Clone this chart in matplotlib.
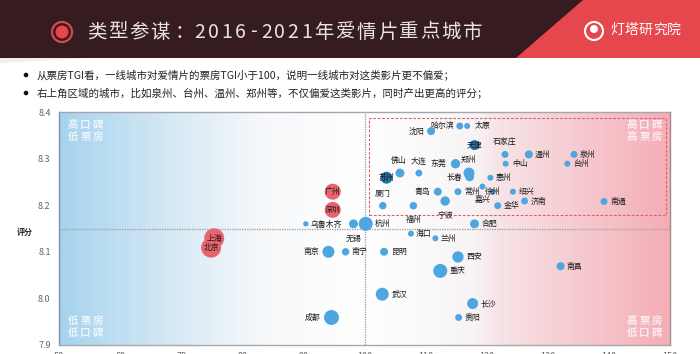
import matplotlib
matplotlib.use('Agg')
import matplotlib.pyplot as plt
from matplotlib.colors import LinearSegmentedColormap
from matplotlib.patches import Circle, Polygon, Rectangle
import numpy as np

plt.rcParams['font.family'] = ['Noto Sans CJK SC', 'DejaVu Sans']

# chart values
cities = ['沈阳', '哈尔滨', '太原', '天津', '石家庄', '中山', '温州', '泉州', '台州', '佛山',
          '大连', '东莞', '郑州', '长春', '惠州', '苏州', '青岛', '常州', '嘉兴', '徐州',
          '绍兴', '金华', '济南', '南通', '厦门', '福州', '宁波', '合肥', '杭州', '无锡',
          '乌鲁木齐', '广州', '深圳', '上海', '北京', '南京', '南宁', '昆明', '武汉', '成都',
          '海口', '兰州', '西安', '重庆', '南昌', '长沙', '贵阳']
tgi = [110.9, 115.6, 116.8, 118.0, 123.0, 123.1, 126.9, 134.3, 133.2, 105.8,
       108.9, 114.9, 117.1, 117.2, 120.6, 103.6, 112.0, 115.3, 119.3, 121.0,
       124.3, 121.8, 126.2, 139.2, 103.0, 108.0, 113.2, 118.0, 100.2, 98.2,
       90.4, 94.8, 94.8, 75.4, 74.9, 94.1, 96.9, 103.2, 102.9, 94.6,
       107.6, 111.6, 115.3, 112.4, 132.1, 117.7, 115.4]
rating = [8.359, 8.37, 8.37, 8.329, 8.309, 8.289, 8.309, 8.309, 8.289, 8.269,
          8.269, 8.289, 8.269, 8.261, 8.259, 8.259, 8.229, 8.229, 8.24, 8.229,
          8.229, 8.199, 8.209, 8.208, 8.199, 8.199, 8.209, 8.16, 8.16, 8.16,
          8.16, 8.229, 8.19, 8.129, 8.109, 8.1, 8.1, 8.1, 8.009, 7.959,
          8.139, 8.129, 8.089, 8.059, 8.069, 7.989, 7.959]
box_office = [16, 12, 9, 25, 12, 9, 16, 12, 9, 20,
              12, 22, 30, 20, 9, 36, 16, 12, 9, 9,
              9, 12, 12, 12, 14, 14, 22, 20, 49, 20,
              7, 64, 64, 100, 100, 36, 14, 16, 42, 56,
              9, 9, 32, 49, 16, 30, 12]
first_tier = ['广州', '深圳', '上海', '北京']
x_ticks = [50, 60, 70, 80, 90, 100, 110, 120, 130, 140, 150]
y_ticks = [7.9, 8.0, 8.1, 8.2, 8.3, 8.4]
bullets = ['从票房TGI看，一线城市对爱情片的票房TGI小于100，说明一线城市对这类影片更不偏爱；',
           '右上角区域的城市，比如泉州、台州、温州、郑州等，不仅偏爱这类影片，同时产出更高的评分；']

# label offset from the dot, pixels (right, down)
label_offset = {'沈阳': (-15, 0), '哈尔滨': (-18, 0), '太原': (15, 0), '石家庄': (0, -12), '中山': (14, 0),
                '温州': (14, 0), '泉州': (14, 0), '台州': (14, 0), '佛山': (-1, -13), '大连': (0, -12),
                '东莞': (-17, 0), '郑州': (0, -14), '长春': (-15, 1), '惠州': (13, 0), '青岛': (-15, 0),
                '常州': (14, 0), '嘉兴': (0, 13), '绍兴': (14, 0), '金华': (14, 0), '济南': (14, 0),
                '南通': (14, 0), '厦门': (0, -12), '福州': (0, 14), '宁波': (0, 14), '合肥': (15, 0),
                '杭州': (17, 0), '无锡': (0, 14), '乌鲁木齐': (20, 1), '南京': (-17, 0), '南宁': (14, 0),
                '昆明': (15, 0), '武汉': (17, 0), '成都': (-19, 0), '海口': (13, 0), '兰州': (13, 0),
                '西安': (16, 0), '重庆': (17, 0), '南昌': (14, 0), '长沙': (16, 0), '贵阳': (14, 0)}

W, H = 700, 354
fig = plt.figure(figsize=(7, 3.54), dpi=100, facecolor='white')

# overlay in pixel coordinates for the header and notes
bg = fig.add_axes([0, 0, 1, 1])
bg.set_xlim(0, W)
bg.set_ylim(H, 0)
bg.axis('off')


def spaced(ax, text, x, y, step, **kw):
    # matplotlib has no letter spacing, so place one character at a time
    for i, ch in enumerate(text):
        ax.text(x + i * step, y, ch, ha='center', va='center', **kw)


bg.add_patch(Rectangle((0, 0), W, 58, color='#361b21', lw=0))
bg.add_patch(Polygon([(583, 0), (W, 0), (W, 58), (516, 58)], color='#e6474c', lw=0))
bg.add_patch(Polygon([(0, 58), (90, 58), (0, 63)], color='#f3eee6', lw=0))
bg.add_patch(Circle((62, 32), 10, fc='none', ec='#d9484c', lw=1.6))
bg.add_patch(Circle((62, 32), 6.5, color='#e6474c', lw=0))
title_color = '#e9e3e3'
spaced(bg, '类型参谋', 97, 32, 21, color=title_color, fontsize=14)
bg.text(184, 32, '：', ha='center', va='center', color=title_color, fontsize=14)
spaced(bg, '2016-2021', 200, 32, 13.3, color=title_color, fontsize=14)
spaced(bg, '年爱情片重点城市', 324, 32, 21.2, color=title_color, fontsize=14)
bg.add_patch(Circle((594, 31), 9, fc='none', ec='white', lw=1.5))
bg.add_patch(Circle((594, 29), 4, color='white', lw=0))
spaced(bg, '灯塔研究院', 617, 30, 14.3, color='white', fontsize=10)

for y, txt in zip([75, 93], bullets):
    bg.add_patch(Circle((26, y), 2.3, color='#111111', lw=0))
    bg.text(37, y, txt, ha='left', va='center', color='#222222', fontsize=7.55)

bg.text(25, 232, '评分', ha='center', va='center', color='#222222', fontsize=5.8, fontweight='bold')

# scatter axes
ax = fig.add_axes([59 / W, 1 - 345 / H, 611 / W, 233 / H])
ax.set_xlim(50, 150)
ax.set_ylim(7.9, 8.4)
ax.patch.set_alpha(0)

cmap = LinearSegmentedColormap.from_list('quad', [
    (0.0, '#a6d3ee'), (0.2, '#dbebf6'), (0.33, '#f6f8fa'), (0.5, '#ffffff'),
    (0.68, '#f8f4f5'), (0.72, '#f7e4e7'), (1.0, '#f4aeb6')])
ax.imshow(np.linspace(0, 1, 400).reshape(1, -1), cmap=cmap, extent=(50, 150, 7.9, 8.4),
          aspect='auto', zorder=0)

ax.axvline(100, color='#a5a5a5', lw=1, ls=(0, (1, 0.8)), zorder=1)
ax.axhline(8.15, color='#a5a5a5', lw=1, ls=(0, (1, 0.8)), zorder=1)
ax.add_patch(Rectangle((100.7, 8.18), 48.7, 0.207, fc='none', ec='#d9606c', lw=0.8,
                       ls=(0, (2.5, 1.5)), zorder=1))

colors = ['#e8646f' if c in first_tier else '#4ea6e0' for c in cities]
colors = ['#1f74ae' if c in ('天津', '苏州') else col for c, col in zip(cities, colors)]
ax.scatter(tgi, rating, s=[2.07 * b for b in box_office], c=colors, linewidths=0, zorder=3,
           clip_on=False)

for c, x, y in zip(cities, tgi, rating):
    dx, dy = label_offset.get(c, (0, 0))
    ax.annotate(c, (x, y), xytext=(dx * 0.72, -dy * 0.72), textcoords='offset points',
                ha='center', va='center', fontsize=5.7, color='#1a1a1a', zorder=4)

# white corner tags
for x0, lines in [(73, {125: '高口碑', 137: '低票房', 321: '低票房', 333: '低口碑'}),
                  (632, {125: '高口碑', 137: '高票房', 321: '高票房', 333: '低口碑'})]:
    for y, t in lines.items():
        spaced(bg, t, x0, y, 12.5, color='white', fontsize=7.5, fontweight='bold', alpha=0.75, zorder=5)
bg.set_zorder(2)
bg.patch.set_alpha(0)

ax.set_xticks(x_ticks)
ax.set_yticks(y_ticks)
ax.set_yticklabels([f'{v:.1f}' for v in y_ticks])
ax.tick_params(length=0, labelsize=6.5, labelcolor='#666666', pad=6)
ax.tick_params(axis='x', pad=5)
for name, col in [('left', '#7f93a5'), ('top', '#a5a5ad'), ('right', '#a08a90'), ('bottom', '#a8a8a8')]:
    ax.spines[name].set_color(col)
    ax.spines[name].set_linewidth(1)

fig.savefig('out.png', dpi=100)
